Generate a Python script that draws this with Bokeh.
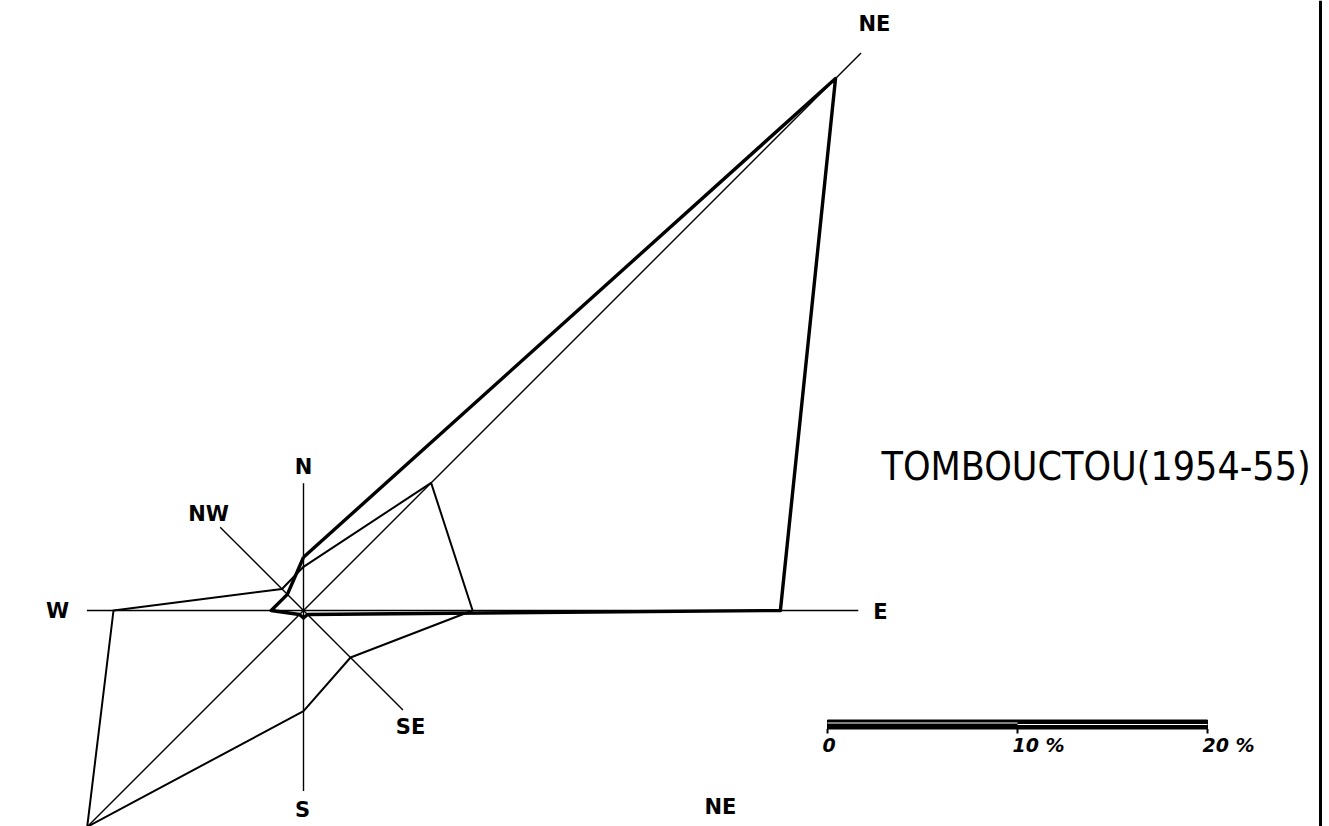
import numpy as np
from bokeh.plotting import figure
from bokeh.models import Range1d, Span
from bokeh.core.properties import value
from bokeh.embed import file_html
from bokeh.resources import INLINE

# ---- data (frequencies in %) ----
directions = ["N", "NE", "E", "SE", "S", "SW", "W", "NW"]
angles_deg = [90, 45, 0, -45, -90, -135, 180, 135]
axis_lengths = [6.7, 41.5, 29.2, 7.4, 9.5, 16.1, 11.4, 6.2]
season_thick = [2.8, 39.6, 25.1, 0.3, 0.4, 0.3, 1.7, 1.2]
season_thin = [2.3, 9.5, 8.9, 3.5, 5.3, 16.1, 10.0, 1.6]
scale_ticks = [0, 10, 20]
scale_labels = ["0", "10 %", "20 %"]
title_text = "TOMBOUCTOU(1954-55)"

# ---- layout ----
PX = 19.0          # pixels per percent
CX, CY = 303, 610  # centre of the rose in pixels
W, H = 1329, 826

def sx(px):
    return (px - CX) / PX

def sy(py):
    return (CY - py) / PX

p = figure(width=W, height=H,
           x_range=Range1d(sx(0), sx(W)), y_range=Range1d(sy(H), sy(0)),
           output_backend="svg", toolbar_location=None, min_border=0,
           x_axis_location=None, y_axis_location=None,
           outline_line_color=None, background_fill_color="white",
           border_fill_color="white")
p.grid.visible = False

ang = np.radians(angles_deg)

# axes of the rose
ax_x = [r * np.cos(a) for r, a in zip(axis_lengths, ang)]
ax_y = [r * np.sin(a) for r, a in zip(axis_lengths, ang)]
p.segment(x0=[0] * len(ax_x), y0=[0] * len(ax_y), x1=ax_x, y1=ax_y,
          line_color="black", line_width=1.4)

def closed(vals):
    xs = [v * np.cos(a) for v, a in zip(vals, ang)]
    ys = [v * np.sin(a) for v, a in zip(vals, ang)]
    return xs + xs[:1], ys + ys[:1]

tx, ty = closed(season_thin)
p.line(tx, ty, line_color="black", line_width=2, line_join="round")
kx, ky = closed(season_thick)
p.line(kx, ky, line_color="black", line_width=3.4, line_join="round")

# direction labels
lab_txt = ["N", "NW", "W", "E", "NE", "SE", "S", "NE"]
lab_x = [sx(303), sx(208), sx(57), sx(880), sx(874), sx(410), sx(302), sx(720)]
lab_y = [sy(466), sy(513), sy(610), sy(611), sy(23), sy(726), sy(809), sy(806)]
p.text(x=lab_x, y=lab_y, text=lab_txt, text_align="center", text_baseline="middle",
       text_font=value("DejaVu Sans"), text_font_style="bold",
       text_font_size="21px", text_color="black")

# title
p.text(x=[sx(881)], y=[sy(466)], text=[title_text], text_align="left",
       text_baseline="middle", text_font=value("DejaVu Sans Condensed"),
       text_font_size="39px", text_color="black")

# scale bar
bx0 = sx(827)
top, bot = sy(719.5), sy(728.5)
p.quad(left=[bx0], right=[bx0 + scale_ticks[-1]], top=[top], bottom=[bot],
       fill_color="black", line_color="black", line_width=1)
p.segment(x0=[bx0, bx0 + scale_ticks[1]], y0=[sy(722.5), sy(724.0)],
          x1=[bx0 + scale_ticks[1], bx0 + scale_ticks[-1]], y1=[sy(722.5), sy(724.0)],
          line_color="white", line_width=1.0)
tick_x = [bx0 + t for t in scale_ticks]
p.segment(x0=tick_x, y0=[bot] * 3, x1=tick_x, y1=[sy(733)] * 3,
          line_color="black", line_width=2)
p.text(x=tick_x, y=[sy(744)] * 3, text=scale_labels, text_align="left",
       text_baseline="middle", x_offset=-5,
       text_font=value("DejaVu Sans"), text_font_style="bold italic",
       text_font_size="19px", text_color="black")

# right border line
p.add_layout(Span(location=sx(1320), dimension="height", line_color="black", line_width=3))

open("out.html", "w").write(file_html(p, INLINE))
